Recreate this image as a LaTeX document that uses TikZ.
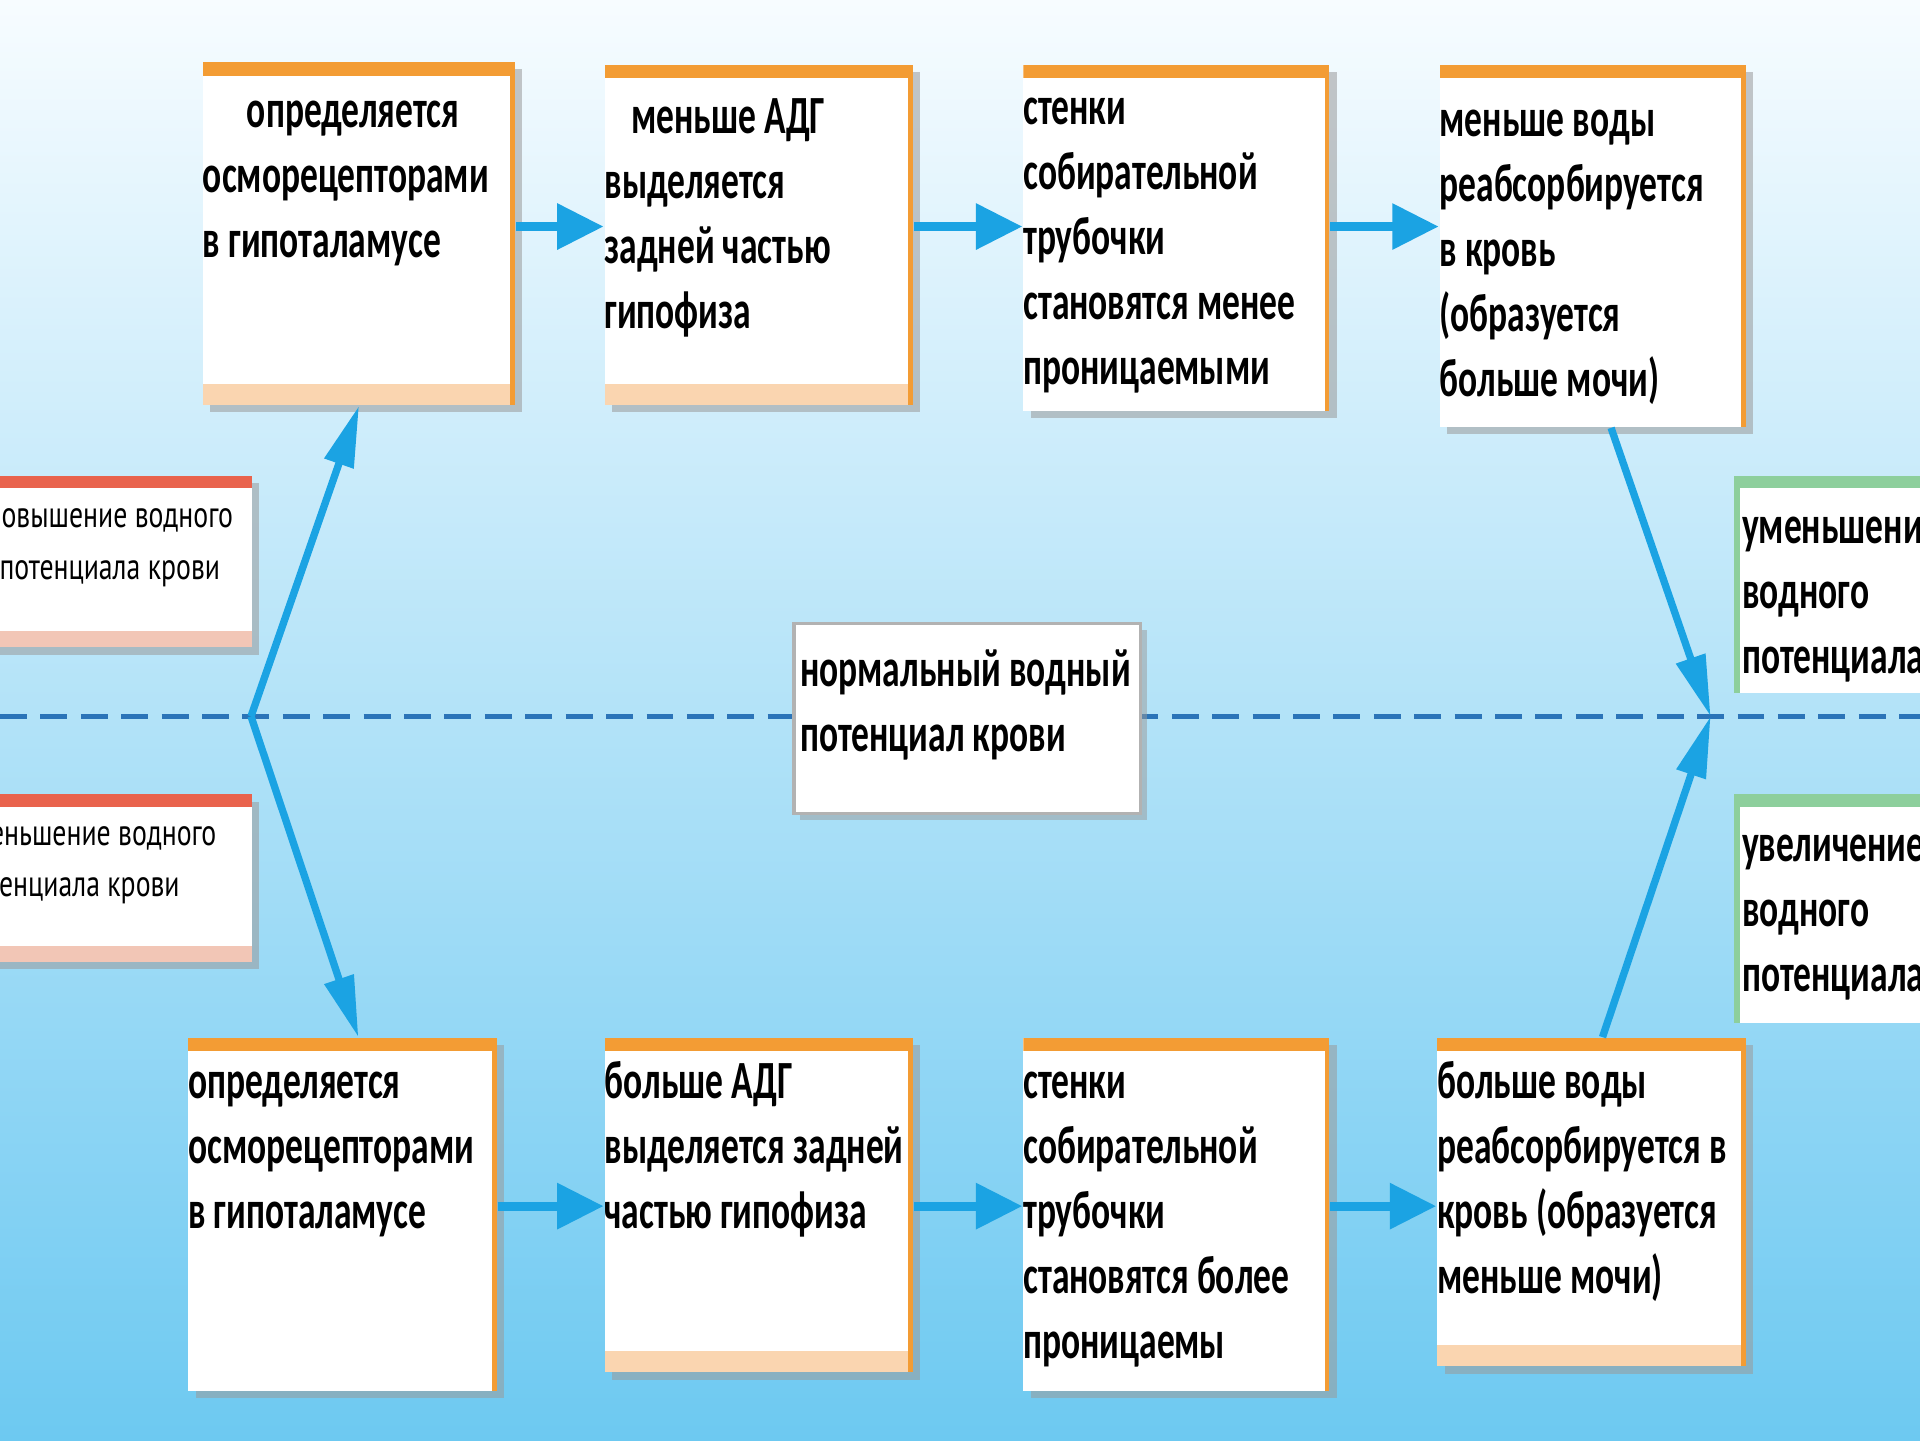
\documentclass[tikz,border=0pt]{standalone}
\usepackage{fontspec}
\setmainfont{Carlito}[FakeStretch=0.66]
\newfontfamily\narrowfont{PT Sans}[FakeStretch=0.75]
\usepackage{xcolor}
\usepackage{tikz}
\usetikzlibrary{arrows.meta,shadows}

\definecolor{barorange}{HTML}{F39C34}
\definecolor{bandpeach}{HTML}{FAD5B0}
\definecolor{barred}{HTML}{E9634D}
\definecolor{bandpink}{HTML}{F2C6B6}
\definecolor{bargreen}{HTML}{8DCF9C}
\definecolor{arrowblue}{HTML}{1BA3E3}
\definecolor{dashblue}{HTML}{2B74B8}
\definecolor{shadowgray}{HTML}{9A9A9A}
\definecolor{bgtop}{HTML}{F7FCFF}
\definecolor{bgmid}{HTML}{BFE5F8}
\definecolor{bgbot}{HTML}{6DC9F1}

\newcommand{\boxfont}{\fontsize{12.5}{15.1}\selectfont\bfseries}
\newcommand{\sidefont}{\narrowfont\fontsize{8.6}{11.95}\selectfont}
% width, height, top padding, lines
\newcommand{\cell}[4]{\parbox[c][#2][t]{#1}{\raggedright\vspace*{#3}\strut #4}}

\begin{document}
\begin{tikzpicture}[x=0.1mm, y=-0.1mm,
  stepbox/.style={fill=white, inner sep=0pt, anchor=north west, font=\boxfont,
    drop shadow={shadow xshift=0.6mm, shadow yshift=-0.6mm, fill=shadowgray, opacity=0.55},
    path picture={
      \fill[barorange] (path picture bounding box.north west) rectangle ([yshift=-1.1mm]path picture bounding box.north east);
      \fill[barorange] (path picture bounding box.north east) rectangle ([xshift=-0.4mm]path picture bounding box.south east);}},
  bandbox/.style={stepbox,
    path picture={
      \fill[bandpeach] (path picture bounding box.south west) rectangle ([yshift=1.7mm]path picture bounding box.south east);
      \fill[barorange] (path picture bounding box.north west) rectangle ([yshift=-1.1mm]path picture bounding box.north east);
      \fill[barorange] (path picture bounding box.north east) rectangle ([xshift=-0.4mm]path picture bounding box.south east);}},
  causebox/.style={fill=white, inner sep=0pt, anchor=north west, font=\sidefont,
    drop shadow={shadow xshift=0.6mm, shadow yshift=-0.6mm, fill=shadowgray, opacity=0.55},
    path picture={
      \fill[bandpink] (path picture bounding box.south west) rectangle ([yshift=1.3mm]path picture bounding box.south east);
      \fill[barred] (path picture bounding box.north west) rectangle ([yshift=-1mm]path picture bounding box.north east);}},
  resultbox/.style={fill=white, inner sep=0pt, anchor=north west, font=\boxfont,
    path picture={
      \fill[bargreen] (path picture bounding box.north west) rectangle ([yshift=-1mm]path picture bounding box.north east);
      \fill[bargreen] (path picture bounding box.north west) rectangle ([xshift=0.5mm]path picture bounding box.south west);}},
  normbox/.style={fill=white, draw=gray!60, line width=0.8pt, inner sep=0pt, anchor=north west, font=\boxfont,
    drop shadow={shadow xshift=0.5mm, shadow yshift=-0.5mm, fill=shadowgray, opacity=0.5}},
  flow/.style={-{Triangle[length=3.8mm,width=3.6mm]}, line width=0.75mm, arrowblue},
  slant/.style={-{Triangle[length=5mm,width=2.4mm]}, line width=0.6mm, arrowblue},
  dashline/.style={dashblue, line width=0.45mm, dash pattern=on 2.2mm off 1.1mm}]
\useasboundingbox (0,0) rectangle (1568,1176);
\clip (0,0) rectangle (1568,1176);
\shade[top color=bgtop, middle color=bgmid, bottom color=bgbot] (0,0) rectangle (1568,1176);

\coordinate (dl) at (0,585);
\coordinate (dr) at (1568,585);
\coordinate (jl) at (205,585);
\coordinate (jr) at (1397,585);
\coordinate (tr) at (0,185);
\coordinate (br) at (0,985);
\draw[dashline] (dl) -- (dr);

% upper chain
\node[bandbox] (t1) at (165,50) {\cell{25.5mm}{28mm}{1.6mm}{\hspace*{3.6mm}определяется\\осморецепторами\\в гипоталамусе}};
\node[bandbox] (t2) at (493,52) {\cell{25.2mm}{27.8mm}{1.9mm}{\hspace*{2.2mm}меньше АДГ\\выделяется\\задней частью\\гипофиза}};
\node[stepbox] (t3) at (835,52) {\cell{25mm}{28.3mm}{1.2mm}{стенки\\собирательной\\трубочки\\становятся менее\\проницаемыми}};
\node[stepbox] (t4) at (1175,52) {\cell{25mm}{29.6mm}{2.2mm}{меньше воды\\реабсорбируется\\в кровь\\(образуется\\больше мочи)}};

% lower chain
\node[stepbox] (b1) at (153,847) {\cell{25.2mm}{28.8mm}{1.2mm}{определяется\\осморецепторами\\в гипоталамусе}};
\node[bandbox] (b2) at (493,847) {\cell{25.2mm}{27.3mm}{1.2mm}{больше АДГ\\выделяется задней\\частью гипофиза}};
\node[stepbox] (b3) at (835,847) {\cell{25mm}{28.8mm}{1.2mm}{стенки\\собирательной\\трубочки\\становятся более\\проницаемы}};
\node[bandbox] (b4) at (1173,847) {\cell{25.2mm}{26.8mm}{1.2mm}{больше воды\\реабсорбируется в\\кровь (образуется\\меньше мочи)}};

\node[causebox] (up) at (-27,388) {\cell{23.2mm}{14mm}{1.3mm}{\centering повышение водного\\потенциала крови}};
\node[causebox] (down) at (-34,648) {\cell{23.9mm}{13.7mm}{1.2mm}{уменьшение водного\\потенциала крови}};
\node[resultbox] (less) at (1415,388) {\cell{20mm}{17.7mm}{1.8mm}{\leftskip=0.7mm уменьшение\\водного\\потенциала}};
\node[resultbox] (more) at (1415,648) {\cell{20mm}{18.7mm}{1.8mm}{\leftskip=0.7mm увеличение\\водного\\потенциала}};
\node[normbox] (norm) at (647,508) {\cell{28.3mm}{15.5mm}{1.4mm}{\leftskip=0.5mm нормальный водный\\потенциал крови}};

\draw [flow] (t1.east |- tr) -- (t2.west |- tr);
\draw [flow] (t2.east |- tr) -- (t3.west |- tr);
\draw [flow] (t3.east |- tr) -- (t4.west |- tr);
\draw [flow] (b1.east |- br) -- (b2.west |- br);
\draw [flow] (b2.east |- br) -- (b3.west |- br);
\draw [flow] (b3.east |- br) -- (b4.west |- br);
\draw [slant] (jl) -- (t1.south);
\draw [slant] (jl) -- ([xshift=1.3mm]b1.north);
\draw [slant] ([xshift=1.5mm]t4.south) -- (jr);
\draw [slant] ([xshift=0.9mm]b4.north) -- (jr);
\end{tikzpicture}
\end{document}
